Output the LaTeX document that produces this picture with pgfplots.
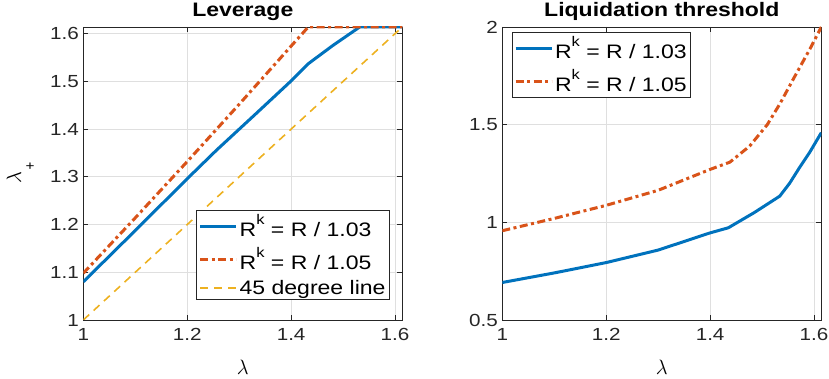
\documentclass[border=0pt]{standalone}
\usepackage{fontspec}
\setmainfont{Liberation Sans}[FakeStretch=1.18]
\usepackage{pgfplots}
\pgfplotsset{compat=1.18}
\definecolor{mblue}{RGB}{0,114,189}
\definecolor{mred}{RGB}{217,83,25}
\definecolor{myellow}{RGB}{237,177,32}
\definecolor{axgray}{RGB}{38,38,38}
\definecolor{gridgray}{RGB}{223,223,223}
\newcommand{\Rk}{R\raisebox{0.62em}{\fontsize{14}{14}\selectfont k}}

\pgfplotsset{mystyle/.style={
  scale only axis, width=319pt, height=293pt,
  xmin=1, xmax=1.614,
  xtick={1,1.2,1.4,1.6},
  grid=major, major grid style={gridgray, line width=0.8pt},
  axis line style={axgray, line width=0.9pt},
  tick style={axgray, line width=0.9pt},
  tick align=inside, major tick length=5pt,
  ticklabel style={font=\fontsize{17.5}{17.5}\selectfont, text=axgray},
  /pgf/number format/assume math mode=true,
  xticklabel style={yshift=-5pt},
  yticklabel style={xshift=-1pt},
  title style={font=\bfseries\fontsize{19.5}{19.5}\selectfont, yshift=-3pt},
  label style={font=\fontsize{20}{20}\selectfont},
  xlabel style={at={(axis description cs:0.5,0)}, anchor=center, yshift=-47pt},
  legend style={font=\fontsize{19.5}{19.5}\selectfont, draw=axgray, line width=0.9pt,
    inner xsep=2pt, inner ysep=2pt, row sep=5pt, nodes={inner sep=2pt}},
  legend cell align=left,
  legend image code/.code={\draw[##1] (0pt,0pt) -- (36pt,0pt);},
}}
\pgfplotsset{
  bl/.style={mblue, line width=3pt},
  rd/.style={mred, line width=3pt, dash pattern=on 8pt off 3.5pt on 3pt off 3.5pt},
  yl/.style={myellow, line width=1.6pt, dash pattern=on 8pt off 6pt},
}

\begin{document}
\begin{tikzpicture}
\useasboundingbox (0,0) rectangle (829pt,379pt);
\begin{axis}[mystyle, name=left,
  at={(83.3pt,59pt)}, anchor=south west,
  ymin=1, ymax=1.614,
  ytick={1,1.1,1.2,1.3,1.4,1.5,1.6},
  title={Leverage},
  xlabel={$\lambda$},
  legend style={at={(0.9614,0.068)}, anchor=south east},
]
\addplot[bl] coordinates {(1,1.080) (1.1,1.1875) (1.2,1.296) (1.2565,1.356) (1.33,1.43) (1.4,1.501) (1.433,1.537) (1.48,1.575) (1.532,1.614) (1.614,1.614)};
\addlegendentry{\Rk{} = R / 1.03}
\addplot[rd] coordinates {(1,1.098) (1.1,1.214) (1.2,1.332) (1.3,1.452) (1.4,1.574) (1.433,1.614) (1.614,1.614)};
\addlegendentry{\Rk{} = R / 1.05}
\addplot[yl] coordinates {(1,1) (1.614,1.614)};
\addlegendentry{45 degree line}
\end{axis}
\node[font=\fontsize{20}{20}\selectfont, inner sep=0pt, rotate=90, xshift=-4.5pt, yshift=69.3pt] at (left.west) {$\lambda$};
\node[font=\fontsize{13}{13}\selectfont, inner sep=0pt, xshift=-53.3pt, yshift=6.5pt] at (left.west) {+};

\begin{axis}[mystyle,
  at={(502.3pt,59pt)}, anchor=south west,
  ymin=0.5, ymax=2,
  ytick={0.5,1,1.5,2},
  title={Liquidation threshold},
  xlabel={$\lambda$},
  legend style={at={(0.029,0.982)}, anchor=north west},
]
\addplot[bl] coordinates {(1,0.692) (1.1,0.741) (1.2,0.794) (1.3,0.858) (1.4,0.946) (1.435,0.972) (1.485,1.05) (1.534,1.134) (1.553,1.20) (1.572,1.28) (1.592,1.36) (1.614,1.459)};
\addlegendentry{\Rk{} = R / 1.03}
\addplot[rd] coordinates {(1,0.957) (1.1,1.02) (1.2,1.087) (1.3,1.164) (1.4,1.271) (1.438,1.308) (1.476,1.39) (1.51,1.50) (1.535,1.61) (1.56,1.733) (1.592,1.887) (1.614,2.0)};
\addlegendentry{\Rk{} = R / 1.05}
\end{axis}
\end{tikzpicture}
\end{document}
